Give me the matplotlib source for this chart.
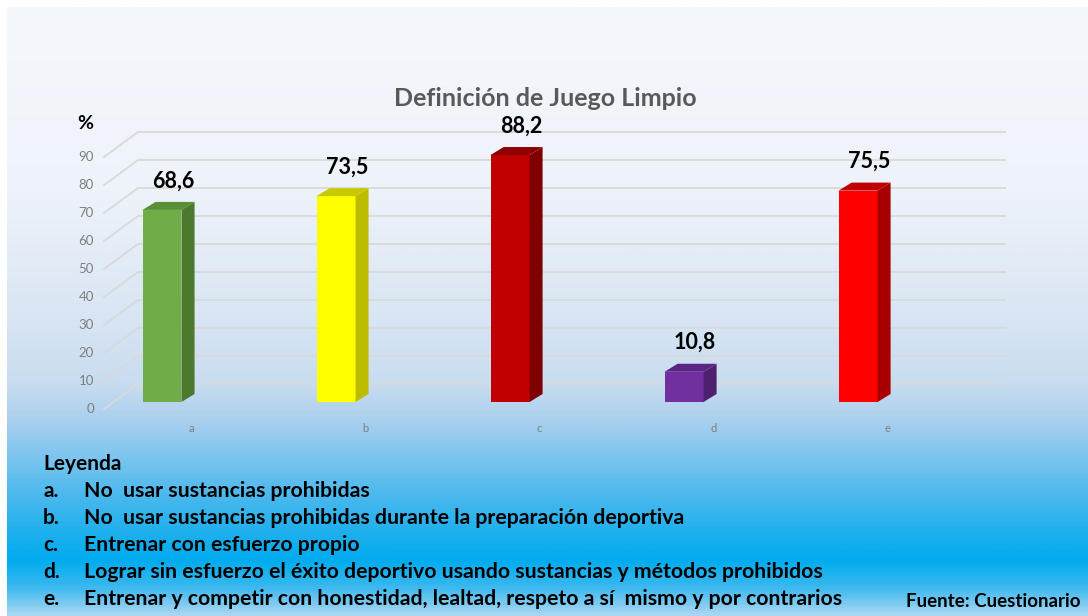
"""
Bar chart with a fake 3D look: definition of fair play (percent of answers).
"""
import numpy as np
import matplotlib
matplotlib.use('Agg')
import matplotlib.pyplot as plt
from matplotlib.patches import Polygon
from matplotlib.colors import LinearSegmentedColormap

plt.rcParams['font.family'] = ['Lato', 'DejaVu Sans']

# --- data ---
categories = ['a', 'b', 'c', 'd', 'e']
percentages = [68.6, 73.5, 88.2, 10.8, 75.5]
value_labels = ['68,6', '73,5', '88,2', '10,8', '75,5']
y_ticks = [0, 10, 20, 30, 40, 50, 60, 70, 80, 90]
legend_items = ['No  usar sustancias prohibidas',
                'No  usar sustancias prohibidas durante la preparación deportiva',
                'Entrenar con esfuerzo propio',
                'Lograr sin esfuerzo el éxito deportivo usando sustancias y métodos prohibidos',
                'Entrenar y competir con honestidad, lealtad, respeto a sí  mismo y por contrarios']

# front / side / top colours of each bar
front_colors = ['#70ad47', '#ffff00', '#c00000', '#7030a0', '#ff0000']
side_colors = ['#4b7a2e', '#bdbd00', '#7f0000', '#4d2070', '#a80000']
top_colors = ['#5a8f38', '#c9c900', '#900000', '#5a2585', '#c00000']

W, H = 1088, 616
fig = plt.figure(figsize=(W / 100, H / 100), dpi=100, facecolor='white')

# background gradient (white margin on the left and top)
bg = fig.add_axes([7 / W, 0, 1 - 7 / W, 1 - 7 / H], zorder=-10)
stops = [(0.0, '#f5f8fc'), (0.30, '#eef3fa'), (0.50, '#dae6f4'),
         (0.62, '#c8dcf0'), (0.68, '#aacfee'), (0.74, '#7cc5ee'),
         (0.80, '#4db9ed'), (0.86, '#22b0ee'), (0.91, '#00acee'),
         (0.955, '#3ab8ef'), (1.0, '#a8d6f2')]
cmap = LinearSegmentedColormap.from_list('bg', stops)
bg.imshow(np.linspace(0, 1, 600).reshape(-1, 1), aspect='auto', cmap=cmap,
          extent=[0, 1, 0, 1], origin='upper')
bg.set_axis_off()

# plotting area
ax = fig.add_axes([75 / W, (H - 402) / H, 931 / W, 280 / H])
ax.set_xlim(-0.5, 4.85)
ax.set_ylim(0, 100)
ax.set_axis_off()

x = np.arange(len(categories))
bar_w = 0.224
dx, dy = 0.075, 2.86          # depth of the bars
back_dx, back_dy = 0.195, 8.93  # from front labels to back wall

# perspective grid
for v in y_ticks:
    ax.plot([-0.333, -0.333 + back_dx, 4.845], [v - 2.5, v - 2.5 + back_dy, v - 2.5 + back_dy],
            color='#d9d9d9', lw=1.3, zorder=1, clip_on=False)
    ax.text(-0.392, v - 2.5, str(v), ha='right', va='center', fontsize=9.5,
            color='#7f7f7f', clip_on=False)

ax.text(-0.443, 99.6, '%', ha='center', va='center', fontsize=14,
        fontweight='bold', color='black')

# bars
ax.bar(x, percentages, width=bar_w, color=front_colors, zorder=3)
for i, v in enumerate(percentages):
    xl, xr = x[i] - bar_w / 2, x[i] + bar_w / 2
    side = Polygon([(xr, 0), (xr + dx, dy), (xr + dx, v + dy), (xr, v)],
                   closed=True, facecolor=side_colors[i], edgecolor='none', zorder=3)
    top = Polygon([(xl, v), (xl + dx, v + dy), (xr + dx, v + dy), (xr, v)],
                  closed=True, facecolor=top_colors[i], edgecolor='none', zorder=3)
    ax.add_patch(side)
    ax.add_patch(top)
    ax.annotate(value_labels[i], xy=(x[i], v), xytext=(8, 21),
                textcoords='offset points', ha='center', va='center',
                fontsize=15.5, fontweight='bold', color='black', zorder=4)
    ax.text(x[i] + 0.167, -9.3, categories[i], ha='center', va='center',
            fontsize=8, color='#7f7f7f', clip_on=False)

# title
fig.text(545 / W, 1 - 99 / H, 'Definición de Juego Limpio', ha='center', va='center',
         fontsize=18, fontweight='bold', color='#595959')

# legend block (shared baselines so the letters line up with the text)
fig.text(43 / W, 1 - 470 / H, 'Leyenda', ha='left', va='baseline',
         fontsize=15, fontweight='bold', color='black')
for k, item in enumerate(legend_items):
    yy = 1 - (497 + 27 * k) / H
    fig.text(43 / W, yy, categories[k] + '.', ha='left', va='baseline',
             fontsize=15, fontweight='bold', color='black')
    fig.text(84 / W, yy, item, ha='left', va='baseline',
             fontsize=15.3, fontweight='bold', color='black')

fig.text(1080 / W, 1 - 607 / H, 'Fuente: Cuestionario', ha='right', va='baseline',
         fontsize=13.5, fontweight='bold', color='black')

plt.savefig('out.png', dpi=100, facecolor='white')
plt.close()
